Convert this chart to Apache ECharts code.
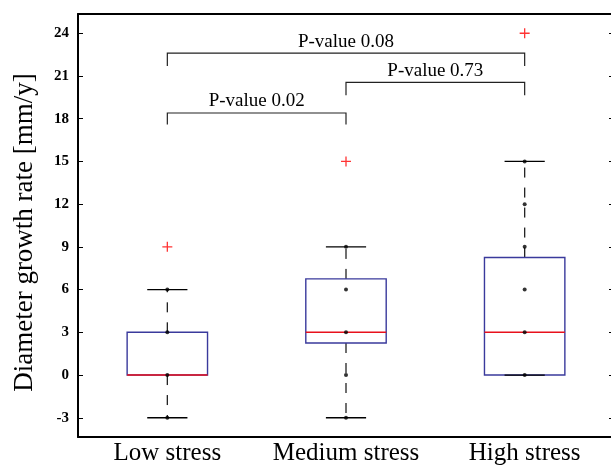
<!DOCTYPE html>
<html><head><meta charset="utf-8">
<script src="https://cdn.jsdelivr.net/npm/echarts@6/dist/echarts.min.js"></script>
<style>html,body{margin:0;padding:0;background:#fff}#c{width:611px;height:465px}</style>
</head><body><div id="c"></div>
<script>
const categories = ['Low stress', 'Medium stress', 'High stress'];
const lowerWhisker = [-3, -3, 0];
const q1 = [0, 2.25, 0];
const median = [0, 3, 3];
const q3 = [3, 6.75, 8.25];
const upperWhisker = [6, 9, 15];
const outlierValues = [9, 15, 24];
const lowPoints = [-3, 0, 3, 6];
const mediumPoints = [-3, 0, 3, 6, 9];
const highPoints = [0, 3, 6, 9, 12, 15];
const yTicks = [-3, 0, 3, 6, 9, 12, 15, 18, 21, 24];
const yMin = -4.35, yMax = 25.35;
const bracketFrom = [0, 1, 0];
const bracketTo = [2, 2, 1];
const bracketTop = [22.6, 20.55, 18.4];
const bracketBottom = [21.7, 19.65, 17.6];
const bracketLabels = ['P-value 0.08', 'P-value 0.73', 'P-value 0.02'];

const SERIF = '"Liberation Serif", "Times New Roman", serif';
const pointData = [];
[lowPoints, mediumPoints, highPoints].forEach((arr, i) => arr.forEach(v => pointData.push([i, v])));
const outlierData = outlierValues.map((v, i) => [i, v]);
const boxData = categories.map((c, i) => [i, lowerWhisker[i], q1[i], median[i], q3[i], upperWhisker[i]]);
const bracketData = bracketLabels.map((l, i) => [bracketFrom[i], bracketTo[i], bracketTop[i], bracketBottom[i]]);

const chart = echarts.init(document.getElementById('c'), null, {renderer: 'canvas'});
chart.setOption({
  animation: false,
  backgroundColor: '#fff',
  grid: {left: 78, top: 14, width: 536, height: 423, outerBoundsMode: 'none', containLabel: false},
  xAxis: [
    {type: 'category', data: categories, position: 'bottom',
     axisLine: {onZero: false, lineStyle: {color: '#000', width: 2}},
     axisTick: {inside: true, alignWithLabel: true, length: 5, lineStyle: {color: '#000', width: 1}},
     axisLabel: {interval: 0, hideOverlap: false, fontFamily: SERIF, fontSize: 25, color: '#000', margin: 4},
     splitLine: {show: false}},
    {type: 'category', data: categories, position: 'top',
     axisLine: {onZero: false, lineStyle: {color: '#000', width: 2}},
     axisTick: {inside: true, alignWithLabel: true, length: 5, lineStyle: {color: '#000', width: 1}},
     axisLabel: {show: false}, splitLine: {show: false}}
  ],
  yAxis: [
    {type: 'value', min: yMin, max: yMax, position: 'left',
     name: 'Diameter growth rate [mm/y]', nameLocation: 'middle', nameGap: 40,
     nameTextStyle: {fontFamily: SERIF, fontSize: 27, color: '#000', padding: [0, 14, 0, 0]},
     axisLine: {show: true, lineStyle: {color: '#000', width: 2}},
     axisTick: {show: true, inside: true, length: 5, customValues: yTicks, lineStyle: {color: '#000', width: 1}},
     axisLabel: {customValues: yTicks, fontFamily: SERIF, fontWeight: 'bold', fontSize: 15, color: '#000', margin: 9},
     splitLine: {show: false}},
    {type: 'value', min: yMin, max: yMax, position: 'right',
     axisLine: {show: true, lineStyle: {color: '#000', width: 2}},
     axisTick: {show: true, inside: true, length: 5, customValues: yTicks, lineStyle: {color: '#000', width: 1}},
     axisLabel: {show: false}, splitLine: {show: false}}
  ],
  series: [
    {type: 'custom', data: boxData, encode: {x: 0, y: [1, 2, 3, 4, 5]}, z: 2,
     renderItem: function (params, api) {
       const i = api.value(0);
       const band = api.size([1, 0])[0];
       const hw = band * 0.225, cw = band * 0.1125;
       const x = api.coord([i, 0])[0];
       const yLW = api.coord([i, api.value(1)])[1];
       const yQ1 = api.coord([i, api.value(2)])[1];
       const yMed = api.coord([i, api.value(3)])[1];
       const yQ3 = api.coord([i, api.value(4)])[1];
       const yUW = api.coord([i, api.value(5)])[1];
       const dash = {stroke: '#222', lineWidth: 1.3, lineDash: [10, 10]};
       const solid = {stroke: '#000', lineWidth: 1.3};
       const children = [];
       if (yUW < yQ3) children.push({type: 'line', shape: {x1: x, y1: yQ3, x2: x, y2: yUW}, style: dash});
       if (yLW > yQ1) children.push({type: 'line', shape: {x1: x, y1: yQ1, x2: x, y2: yLW}, style: dash});
       children.push({type: 'rect', shape: {x: x - hw, y: yQ3, width: 2 * hw, height: yQ1 - yQ3},
                      style: {fill: 'none', stroke: '#3a3a9c', lineWidth: 1.4}});
       children.push({type: 'line', shape: {x1: x - cw, y1: yUW, x2: x + cw, y2: yUW}, style: solid});
       children.push({type: 'line', shape: {x1: x - cw, y1: yLW, x2: x + cw, y2: yLW}, style: solid});
       children.push({type: 'line', shape: {x1: x - hw, y1: yMed, x2: x + hw, y2: yMed}, style: {stroke: '#e8101c', lineWidth: 1.5}});
       return {type: 'group', children: children};
     }},
    {type: 'scatter', data: pointData, symbol: 'circle', symbolSize: 4, z: 3,
     itemStyle: {color: '#000'}, silent: true},
    {type: 'scatter', data: outlierData, z: 3, silent: true,
     symbol: 'path://M0,4.35H10V5.65H0Z M4.35,0H5.65V10H4.35Z', symbolSize: 10,
     itemStyle: {color: '#ff0000'}},
    {type: 'custom', data: bracketData, encode: {x: [0, 1], y: [2, 3]}, z: 4, clip: false,
     renderItem: function (params, api) {
       const a = api.coord([api.value(0), api.value(2)]);
       const b = api.coord([api.value(1), api.value(2)]);
       const yb = api.coord([api.value(0), api.value(3)])[1];
       return {type: 'group', children: [
         {type: 'polyline', shape: {points: [[a[0], yb], [a[0], a[1]], [b[0], b[1]], [b[0], yb]]},
          style: {fill: 'none', stroke: '#222', lineWidth: 1.2}},
         {type: 'text', style: {text: bracketLabels[params.dataIndex], x: (a[0] + b[0]) / 2, y: a[1] - 2,
          align: 'center', verticalAlign: 'bottom', fill: '#000',
          font: '19px ' + SERIF}}
       ]};
     }}
  ]
});
</script></body></html>
